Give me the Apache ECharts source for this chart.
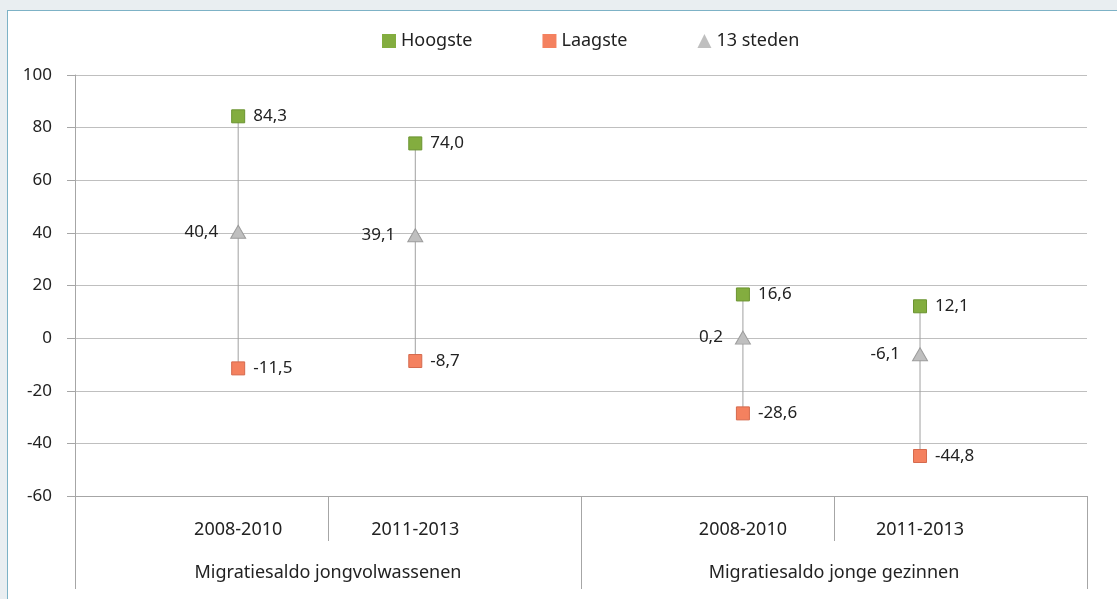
<!DOCTYPE html>
<html>
<head>
<meta charset="utf-8">
<script src="https://cdn.jsdelivr.net/npm/echarts@6/dist/echarts.min.js"></script>
<style>
  html, body { margin: 0; padding: 0; background: #e9eef1; }
  #panel { position: absolute; left: 7px; top: 10px; width: 1200px; height: 700px; background: #fff; border: 1px solid #7db2c6; }
  #chart { position: absolute; left: 0; top: 0; width: 1117px; height: 599px; }
</style>
</head>
<body>
<div id="panel"></div>
<div id="chart"></div>
<script>
// periodes en groepen
const periods = ['2008-2010', '2011-2013', '2008-2010', '2011-2013'];
const groups = ['Migratiesaldo jongvolwassenen', 'Migratiesaldo jonge gezinnen'];
// plaats van elke periode op de x-as (groep 1 = 0..2, groep 2 = 2..4)
const xPos = [0.645, 1.345, 2.64, 3.34];
const groupPos = [1, 3];

const hoogste = [84.3, 74.0, 16.6, 12.1];
const laagste = [-11.5, -8.7, -28.6, -44.8];
const steden = [40.4, 39.1, 0.2, -6.1];

const FONT = 'Noto Sans';
const TXT = '#222';

function fmt(v) {
    return v.toFixed(1).replace('.', ',');
}
function pts(vals) {
    return vals.map((v, i) => [xPos[i], v]);
}

const chart = echarts.init(document.getElementById('chart'));

const option = {
    animation: false,
    backgroundColor: 'transparent',
    textStyle: { fontFamily: FONT, color: TXT },
    legend: {
        data: [
            { name: 'Hoogste', icon: 'rect' },
            { name: 'Laagste', icon: 'rect' },
            { name: '13 steden', icon: 'triangle' }
        ],
        left: 377,
        top: 27,
        itemWidth: 14,
        itemHeight: 14,
        itemGap: 70,
        itemStyle: { borderWidth: 0 },
        textStyle: { fontSize: 18, color: TXT, fontFamily: FONT }
    },
    grid: { left: 75, right: 30, top: 75, bottom: 103 },
    xAxis: [
        {
            type: 'value', min: 0, max: 4, position: 'bottom',
            splitLine: { show: false },
            axisLine: { show: true, onZero: false, lineStyle: { color: '#a6a6a6' } },
            axisTick: { show: true, customValues: [1, 3], length: 45, lineStyle: { color: '#a6a6a6' } },
            axisLabel: {
                customValues: xPos, margin: 25, fontSize: 18, color: TXT,
                formatter: v => periods[xPos.indexOf(v)] || ''
            }
        },
        {
            type: 'value', min: 0, max: 4, position: 'bottom',
            splitLine: { show: false },
            axisLine: { show: false, onZero: false },
            axisTick: { show: true, customValues: [0, 2, 4], length: 93, lineStyle: { color: '#a6a6a6' } },
            axisLabel: {
                customValues: groupPos, margin: 68, fontSize: 18, color: TXT,
                formatter: v => groups[groupPos.indexOf(v)] || ''
            }
        }
    ],
    yAxis: {
        type: 'value', min: -60, max: 100, interval: 20,
        axisLine: { show: true, lineStyle: { color: '#a6a6a6' } },
        axisTick: { show: true, length: 8, lineStyle: { color: '#a6a6a6' } },
        axisLabel: { margin: 23, fontSize: 17, color: TXT },
        splitLine: { lineStyle: { color: '#bfbfbf' } }
    },
    series: [
        {
            name: 'verbinding',
            type: 'custom',
            z: 1,
            data: xPos.map((x, i) => [x, hoogste[i], laagste[i]]),
            encode: { x: 0, y: [1, 2] },
            renderItem: (params, api) => {
                const a = api.coord([api.value(0), api.value(1)]);
                const b = api.coord([api.value(0), api.value(2)]);
                return {
                    type: 'line',
                    shape: { x1: a[0], y1: a[1], x2: b[0], y2: b[1] },
                    style: { stroke: '#a0a0a0', lineWidth: 1 }
                };
            }
        },
        {
            name: 'Hoogste', type: 'scatter', z: 3,
            symbol: 'rect', symbolSize: 13,
            itemStyle: { color: '#83ad3f', borderColor: '#6b9431', borderWidth: 1, opacity: 1 },
            label: { show: true, position: 'right', distance: 8, fontSize: 17, color: TXT, fontFamily: FONT, formatter: p => fmt(p.value[1]) },
            data: pts(hoogste)
        },
        {
            name: 'Laagste', type: 'scatter', z: 3,
            symbol: 'rect', symbolSize: 13,
            itemStyle: { color: '#f4815f', borderColor: '#d56a4e', borderWidth: 1, opacity: 1 },
            label: { show: true, position: 'right', distance: 8, fontSize: 17, color: TXT, fontFamily: FONT, formatter: p => fmt(p.value[1]) },
            data: pts(laagste)
        },
        {
            name: '13 steden', type: 'scatter', z: 3,
            symbol: 'triangle', symbolSize: [15, 13],
            itemStyle: { color: '#bfbfbf', borderColor: '#9c9c9c', borderWidth: 1, opacity: 1 },
            label: { show: true, position: 'left', distance: 12, fontSize: 17, color: TXT, fontFamily: FONT, formatter: p => fmt(p.value[1]) },
            data: pts(steden)
        }
    ]
};

chart.setOption(option);
</script>
</body>
</html>
